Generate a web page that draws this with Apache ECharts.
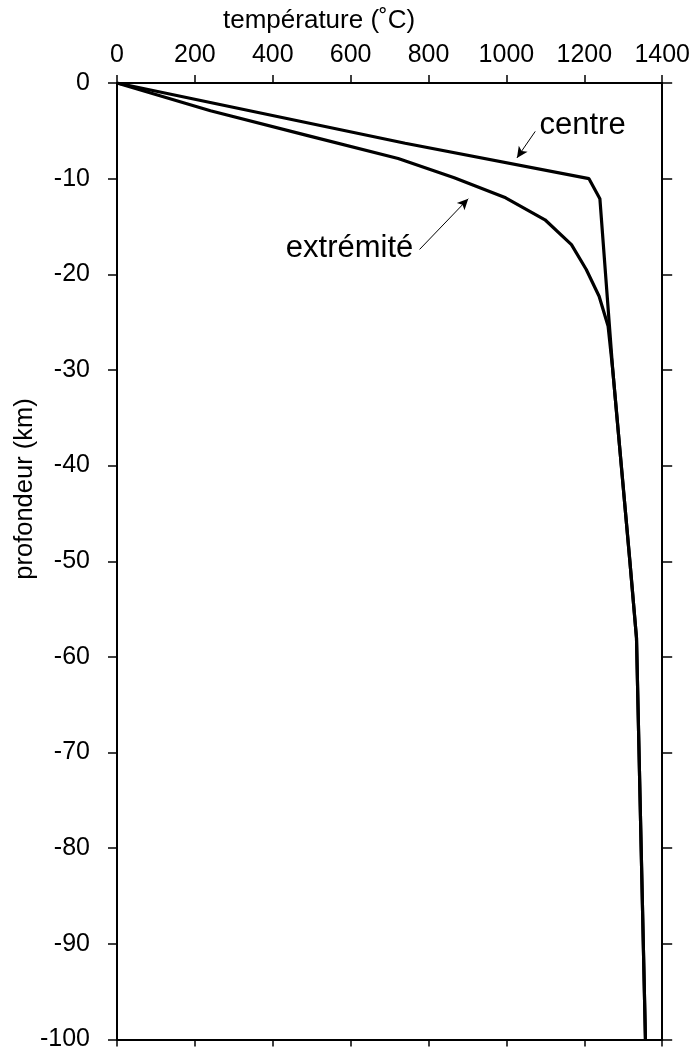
<!DOCTYPE html>
<html>
<head>
<meta charset="utf-8">
<script src="https://cdn.jsdelivr.net/npm/echarts@6/dist/echarts.min.js"></script>
<style>html,body{margin:0;padding:0;background:#fff;}#c{width:693px;height:1052px;}</style>
</head>
<body>
<div id="c"></div>
<script>
// ---- data ----
const xTitle = 'température (˚C)';
const yTitle = 'profondeur (km)';
const centreTemp  = [0, 740, 1212, 1240, 1273, 1295, 1317, 1334, 1346, 1357];
const centreDepth = [0, -6.3, -10, -12.1, -30, -40, -50, -58, -80, -100];
const extremTemp  = [0, 240, 490, 722, 866, 998, 1099, 1167, 1205, 1238, 1261, 1273, 1295, 1317, 1334, 1346, 1357];
const extremDepth = [0, -2.9, -5.5, -7.9, -9.9, -12.0, -14.3, -16.9, -19.5, -22.3, -25.4, -30, -40, -50, -58, -80, -100];
const annotations = [
  {text: 'centre',    at: [1085, -4.39], align: 'left',  arrowFrom: [1074, -5.06], arrowTo: [1027, -7.83]},
  {text: 'extrémité', at: [761, -17.34], align: 'right', arrowFrom: [777, -17.4],  arrowTo: [902, -12.1]}
];

const FONT = '"Liberation Sans", Arial, sans-serif';
const pairs = (xs, ys) => xs.map((x, i) => [x, ys[i]]);
const plain = v => String(v);

const chart = echarts.init(document.getElementById('c'), null, {renderer: 'canvas'});
const axisLine = {show: true, onZero: false, lineStyle: {color: '#000', width: 2}};
const tickStyle = {color: '#000', width: 1.5};

const arrowLines = annotations.map(a => [{coord: a.arrowFrom}, {coord: a.arrowTo}]);

const option = {
  backgroundColor: '#fff',
  animation: false,
  grid: {left: 117, right: 26, top: 83, bottom: 11},
  xAxis: [
    {type: 'value', position: 'top', min: 0, max: 1400, interval: 200,
     axisLine: axisLine, axisTick: {show: true, inside: false, length: 8, lineStyle: tickStyle},
     axisLabel: {fontSize: 25, color: '#000', margin: 15, fontFamily: FONT, formatter: plain},
     splitLine: {show: false}},
    {type: 'value', position: 'bottom', min: 0, max: 1400, interval: 200,
     axisLine: axisLine, axisTick: {show: true, inside: false, length: 7, lineStyle: tickStyle},
     axisLabel: {show: false}, splitLine: {show: false}}
  ],
  yAxis: [
    {type: 'value', position: 'left', min: -100, max: 0, interval: 10,
     axisLine: axisLine, axisTick: {show: true, inside: false, length: 9, lineStyle: tickStyle},
     axisLabel: {fontSize: 25, color: '#000', margin: 27, fontFamily: FONT, formatter: plain},
     splitLine: {show: false}},
    {type: 'value', position: 'right', min: -100, max: 0, interval: 10,
     axisLine: axisLine, axisTick: {show: true, inside: false, length: 10, lineStyle: tickStyle},
     axisLabel: {show: false}, splitLine: {show: false}}
  ],
  series: [
    {name: 'centre', type: 'line', xAxisIndex: 0, yAxisIndex: 0, showSymbol: false, symbol: 'none',
     lineStyle: {color: '#000', width: 3.2}, data: pairs(centreTemp, centreDepth),
     markLine: {silent: true, symbol: ['none', 'arrow'], symbolSize: [8, 11],
       lineStyle: {color: '#000', width: 1, type: 'solid'}, label: {show: false},
       data: arrowLines}},
    {name: 'extrémité', type: 'line', xAxisIndex: 0, yAxisIndex: 0, showSymbol: false, symbol: 'none',
     lineStyle: {color: '#000', width: 3.2}, data: pairs(extremTemp, extremDepth)}
  ]
};
chart.setOption(option);

const g = [
  {type: 'text', x: 223, y: 21, style: {text: xTitle, font: '26px ' + FONT, fill: '#000', textAlign: 'left', textVerticalAlign: 'middle', align: 'left', verticalAlign: 'middle'}},
  {type: 'text', x: 25, y: 489, rotation: Math.PI / 2, style: {text: yTitle, font: '25.5px ' + FONT, fill: '#000', textAlign: 'center', textVerticalAlign: 'middle', align: 'center', verticalAlign: 'middle'}}
];
annotations.forEach(a => {
  const p = chart.convertToPixel({xAxisIndex: 0, yAxisIndex: 0}, a.at);
  g.push({type: 'text', x: p[0], y: p[1], style: {text: a.text, font: '31px ' + FONT, fill: '#000', textAlign: a.align, align: a.align, textVerticalAlign: 'middle', verticalAlign: 'middle'}});
});
chart.setOption({graphic: g});
</script>
</body>
</html>
